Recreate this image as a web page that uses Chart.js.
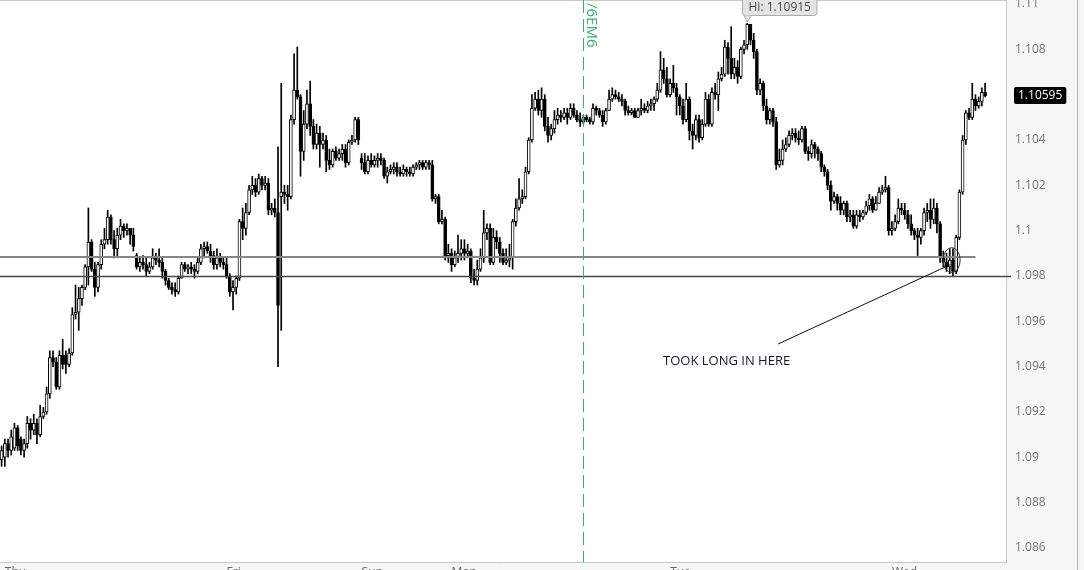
<!DOCTYPE html>
<html><head><meta charset="utf-8">
<script src="https://cdn.jsdelivr.net/npm/chart.js@4.4.1/dist/chart.umd.min.js"></script>
<style>html,body{margin:0;padding:0;background:#f6f6f6;overflow:hidden}#wrap{position:relative;width:1084px;height:570px}</style>
</head><body><div id="wrap"><canvas id="c"></canvas></div>
<script>
// ---- DATA (EUR/USD style candles) ----
const opens=[
1.0899,1.0900,1.0906,1.0903,1.0904,1.0913,1.0908,1.0903,1.0906,1.0915,
1.0912,1.0915,1.0910,1.0918,1.0920,1.0928,1.0944,1.0942,1.0931,1.0945,
1.0945,1.0941,1.0946,1.0963,1.0964,1.0970,1.0975,1.0984,1.0995,1.0983,
1.0975,1.0985,1.0994,1.0996,1.1006,1.0996,1.0992,1.0998,1.1002,1.1000,
1.1001,1.0998,1.0989,1.0984,1.0986,1.0985,1.0982,1.0984,1.0988,1.0987,
1.0986,1.0982,1.0978,1.0975,1.0974,1.0973,1.0979,1.0985,1.0983,1.0984,
1.0983,1.0982,1.0986,1.0992,1.0993,1.0991,1.0989,1.0985,1.0988,1.0986,
1.0985,1.0980,1.0973,1.0975,1.0979,1.1004,1.1001,1.1008,1.1018,1.1020,
1.1017,1.1023,1.1020,1.1021,1.1009,1.1010,1.1008,1.1015,1.1017,1.1016,
1.1015,1.1049,1.1062,1.1059,1.1035,1.1047,1.1056,1.1046,1.1038,1.1043,
1.1038,1.1040,1.1031,1.1029,1.1035,1.1032,1.1034,1.1036,1.1030,1.1039,
1.1040,1.1049,1.1032,1.1030,1.1026,1.1031,1.1029,1.1031,1.1032,1.1031,
1.1024,1.1026,1.1027,1.1028,1.1026,1.1025,1.1027,1.1026,1.1025,1.1028,
1.1029,1.1030,1.1028,1.1030,1.1029,1.1014,1.1015,1.1004,1.1005,1.0989,
1.0990,1.0985,1.0988,1.0990,1.0992,1.0990,1.0991,1.0979,1.0978,1.0983,
1.0988,1.0999,1.1001,1.0986,1.0997,1.0995,1.0990,1.0986,1.0987,1.0988,
1.1004,1.1010,1.1014,1.1015,1.1026,1.1040,1.1054,1.1058,1.1053,1.1058,
1.1046,1.1042,1.1045,1.1049,1.1051,1.1050,1.1052,1.1050,1.1054,1.1051,
1.1049,1.1048,1.1050,1.1049,1.1048,1.1054,1.1053,1.1051,1.1048,1.1053,
1.1058,1.1060,1.1059,1.1058,1.1057,1.1053,1.1052,1.1053,1.1050,1.1053,
1.1054,1.1053,1.1055,1.1056,1.1058,1.1062,1.1071,1.1067,1.1060,1.1065,
1.1063,1.1059,1.1055,1.1049,1.1058,1.1044,1.1042,1.1049,1.1041,1.1047,
1.1058,1.1047,1.1061,1.1060,1.1067,1.1069,1.1081,1.1076,1.1069,1.1072,
1.1068,1.1080,1.1082,1.1091,1.1084,1.1079,1.1062,1.1065,1.1055,1.1049,
1.1053,1.1048,1.1029,1.1031,1.1036,1.1038,1.1042,1.1043,1.1041,1.1040,
1.1045,1.1035,1.1034,1.1038,1.1036,1.1034,1.1028,1.1026,1.1020,1.1013,
1.1015,1.1012,1.1009,1.1012,1.1006,1.1007,1.1002,1.1007,1.1006,1.1008,
1.1011,1.1014,1.1009,1.1012,1.1017,1.1018,1.1019,1.1000,1.1001,1.1004,
1.1010,1.1009,1.1007,1.1003,1.1000,1.0998,1.0997,1.1000,1.1008,1.1009,
1.1005,1.1010,1.1003,1.0988,1.0986,1.0984,1.0987,1.0982,1.0997,1.1017,
1.1040,1.1052,1.1050,1.1058,1.1055,1.1057,1.1061];
const highs=[
1.0905,1.0908,1.0908,1.0912,1.0915,1.0914,1.0909,1.0908,1.0918,1.0917,
1.0919,1.0917,1.0923,1.0922,1.0931,1.0947,1.0947,1.0944,1.0947,1.0952,
1.0947,1.0948,1.0966,1.0976,1.0975,1.0976,1.0985,1.1010,1.0996,1.0986,
1.0986,1.0996,1.1001,1.1009,1.1007,1.1000,1.1001,1.1005,1.1003,1.1003,
1.1001,1.1001,1.0990,1.0988,1.0989,1.0988,1.0986,1.0992,1.0990,1.0992,
1.0988,1.0983,1.0979,1.0977,1.0977,1.0980,1.0986,1.0986,1.0985,1.0986,
1.0985,1.0988,1.0994,1.0995,1.0995,1.0994,1.0991,1.0992,1.0990,1.0988,
1.0988,1.0981,1.0978,1.0980,1.1005,1.1010,1.1012,1.1020,1.1024,1.1023,
1.1025,1.1024,1.1024,1.1023,1.1012,1.1014,1.1037,1.1065,1.1020,1.1020,
1.1051,1.1078,1.1081,1.1060,1.1053,1.1062,1.1066,1.1049,1.1047,1.1046,
1.1043,1.1042,1.1036,1.1036,1.1037,1.1036,1.1038,1.1038,1.1040,1.1042,
1.1050,1.1050,1.1034,1.1034,1.1033,1.1034,1.1033,1.1034,1.1034,1.1032,
1.1028,1.1029,1.1030,1.1030,1.1028,1.1029,1.1028,1.1028,1.1029,1.1030,
1.1031,1.1031,1.1031,1.1031,1.1031,1.1016,1.1016,1.1009,1.1006,1.0994,
1.0992,1.0991,1.0998,1.0996,1.0996,1.0994,1.0992,1.0983,1.0987,1.0992,
1.1009,1.1003,1.1003,1.1001,1.1000,1.0997,1.0992,1.0992,1.0994,1.1005,
1.1014,1.1023,1.1018,1.1028,1.1041,1.1060,1.1061,1.1062,1.1063,1.1060,
1.1050,1.1047,1.1053,1.1054,1.1053,1.1054,1.1054,1.1056,1.1056,1.1053,
1.1052,1.1051,1.1051,1.1050,1.1056,1.1055,1.1054,1.1053,1.1054,1.1062,
1.1063,1.1062,1.1061,1.1060,1.1058,1.1055,1.1054,1.1054,1.1054,1.1058,
1.1056,1.1057,1.1058,1.1059,1.1065,1.1079,1.1076,1.1072,1.1067,1.1073,
1.1065,1.1060,1.1058,1.1065,1.1059,1.1047,1.1051,1.1051,1.1049,1.1061,
1.1060,1.1063,1.1065,1.1070,1.1072,1.1084,1.1083,1.1090,1.1076,1.1075,
1.1081,1.1084,1.10915,1.1091,1.1087,1.1080,1.1067,1.1066,1.1058,1.1054,
1.1054,1.1050,1.1036,1.1040,1.1041,1.1044,1.1045,1.1045,1.1044,1.1046,
1.1046,1.1037,1.1040,1.1039,1.1037,1.1035,1.1029,1.1027,1.1022,1.1017,
1.1016,1.1015,1.1013,1.1013,1.1009,1.1009,1.1009,1.1009,1.1009,1.1013,
1.1016,1.1015,1.1015,1.1019,1.1020,1.1024,1.1020,1.1004,1.1007,1.1014,
1.1012,1.1012,1.1009,1.1007,1.1001,1.1001,1.1001,1.1010,1.1012,1.1014,
1.1014,1.1012,1.1004,1.0991,1.0990,1.0992,1.0992,1.0998,1.1018,1.1042,
1.1053,1.1054,1.1065,1.1060,1.1059,1.1063,1.1065];
const lows=[
1.0896,1.0896,1.0900,1.0901,1.0903,1.0903,1.0901,1.0900,1.0904,1.0908,
1.0910,1.0906,1.0909,1.0917,1.0919,1.0926,1.0940,1.0930,1.0930,1.0939,
1.0937,1.0940,1.0945,1.0961,1.0956,1.0967,1.0974,1.0976,1.0982,1.0971,
1.0973,1.0983,1.0992,1.0994,1.0994,1.0988,1.0988,1.0996,1.0997,1.0998,
1.0994,1.0991,1.0983,1.0982,1.0983,1.0980,1.0981,1.0983,1.0985,1.0984,
1.0979,1.0976,1.0974,1.0972,1.0971,1.0972,1.0979,1.0982,1.0981,1.0981,
1.0979,1.0981,1.0985,1.0988,1.0990,1.0986,1.0983,1.0983,1.0984,1.0983,
1.0979,1.0971,1.0965,1.0972,1.0978,1.0996,1.0998,1.1007,1.1016,1.1015,
1.1016,1.1018,1.1018,1.1007,1.1007,1.1006,1.0940,1.0956,1.1012,1.1009,
1.1014,1.1047,1.1058,1.1024,1.1031,1.1045,1.1042,1.1036,1.1036,1.1028,
1.1036,1.1026,1.1027,1.1028,1.1031,1.1031,1.1031,1.1028,1.1029,1.1038,
1.1039,1.1038,1.1027,1.1025,1.1025,1.1028,1.1028,1.1028,1.1029,1.1023,
1.1021,1.1025,1.1025,1.1024,1.1024,1.1024,1.1024,1.1024,1.1024,1.1027,
1.1027,1.1027,1.1027,1.1027,1.1013,1.1012,1.1003,1.1003,1.0987,1.0986,
1.0982,1.0984,1.0986,1.0987,1.0987,1.0988,1.0977,1.0976,1.0976,1.0982,
1.0986,1.0996,1.0985,1.0985,1.0992,1.0986,1.0985,1.0985,1.0984,1.0983,
1.1002,1.1009,1.1012,1.1014,1.1025,1.1039,1.1053,1.1051,1.1050,1.1044,
1.1039,1.1040,1.1043,1.1047,1.1048,1.1049,1.1047,1.1049,1.1050,1.1048,
1.1046,1.1047,1.1048,1.1047,1.1047,1.1051,1.1050,1.1046,1.1047,1.1053,
1.1057,1.1058,1.1057,1.1055,1.1051,1.1051,1.1051,1.1050,1.1050,1.1051,
1.1052,1.1052,1.1053,1.1053,1.1057,1.1061,1.1065,1.1059,1.1059,1.1061,
1.1051,1.1051,1.1047,1.1048,1.1040,1.1036,1.1040,1.1039,1.1040,1.1046,
1.1046,1.1046,1.1058,1.1053,1.1066,1.1068,1.1069,1.1067,1.1067,1.1065,
1.1067,1.1078,1.1080,1.1082,1.1076,1.1060,1.1060,1.1053,1.1047,1.1047,
1.1046,1.1027,1.1028,1.1029,1.1035,1.1037,1.1040,1.1039,1.1038,1.1039,
1.1034,1.1031,1.1032,1.1032,1.1031,1.1026,1.1024,1.1018,1.1009,1.1012,
1.1009,1.1007,1.1007,1.1004,1.1004,1.1001,1.1001,1.1004,1.1005,1.1007,
1.1009,1.1008,1.1009,1.1012,1.1016,1.1017,1.0998,1.0998,1.1000,1.1003,
1.1007,1.1005,1.1001,1.0998,1.0996,1.0989,1.0994,1.0998,1.1004,1.1001,
1.1003,1.0999,1.0986,1.0984,1.0982,1.0981,1.0980,1.0981,1.0996,1.1016,
1.1038,1.1049,1.1049,1.1053,1.1054,1.1055,1.1059];
const closes=[
1.0903,1.0906,1.0903,1.0909,1.0913,1.0905,1.0903,1.0906,1.0915,1.0912,
1.0915,1.0910,1.0918,1.0920,1.0928,1.0944,1.0942,1.0931,1.0945,1.0941,
1.0941,1.0946,1.0963,1.0964,1.0970,1.0975,1.0984,1.0995,1.0983,1.0975,
1.0985,1.0994,1.0996,1.1006,1.0996,1.0992,1.0998,1.1002,1.1000,1.1001,
1.0998,1.0993,1.0984,1.0986,1.0985,1.0982,1.0984,1.0988,1.0987,1.0986,
1.0982,1.0978,1.0975,1.0974,1.0973,1.0979,1.0985,1.0983,1.0984,1.0983,
1.0982,1.0986,1.0992,1.0993,1.0991,1.0989,1.0985,1.0988,1.0986,1.0985,
1.0980,1.0973,1.0975,1.0979,1.1004,1.1001,1.1008,1.1018,1.1020,1.1017,
1.1023,1.1020,1.1021,1.1009,1.1010,1.1008,1.0967,1.1017,1.1016,1.1015,
1.1049,1.1062,1.1059,1.1035,1.1047,1.1056,1.1046,1.1038,1.1043,1.1038,
1.1040,1.1031,1.1029,1.1035,1.1032,1.1034,1.1036,1.1030,1.1039,1.1040,
1.1049,1.1040,1.1030,1.1026,1.1031,1.1029,1.1031,1.1032,1.1031,1.1024,
1.1026,1.1027,1.1028,1.1026,1.1025,1.1027,1.1026,1.1025,1.1028,1.1029,
1.1030,1.1028,1.1030,1.1029,1.1014,1.1015,1.1004,1.1005,1.0989,1.0990,
1.0985,1.0988,1.0990,1.0992,1.0990,1.0991,1.0979,1.0978,1.0983,1.0988,
1.0999,1.1001,1.0986,1.0997,1.0995,1.0990,1.0986,1.0987,1.0988,1.1004,
1.1010,1.1014,1.1015,1.1026,1.1040,1.1054,1.1058,1.1053,1.1058,1.1046,
1.1042,1.1045,1.1049,1.1051,1.1050,1.1052,1.1050,1.1054,1.1051,1.1049,
1.1048,1.1050,1.1049,1.1048,1.1054,1.1053,1.1051,1.1048,1.1053,1.1058,
1.1060,1.1059,1.1058,1.1057,1.1053,1.1052,1.1053,1.1050,1.1053,1.1054,
1.1053,1.1055,1.1056,1.1058,1.1062,1.1071,1.1067,1.1060,1.1065,1.1063,
1.1059,1.1055,1.1049,1.1058,1.1044,1.1042,1.1049,1.1041,1.1047,1.1058,
1.1047,1.1061,1.1060,1.1067,1.1069,1.1081,1.1076,1.1069,1.1072,1.1068,
1.1080,1.1082,1.1091,1.1084,1.1079,1.1062,1.1065,1.1055,1.1049,1.1053,
1.1048,1.1029,1.1031,1.1036,1.1038,1.1042,1.1043,1.1041,1.1040,1.1045,
1.1035,1.1034,1.1038,1.1036,1.1034,1.1028,1.1026,1.1020,1.1013,1.1015,
1.1012,1.1009,1.1012,1.1006,1.1007,1.1002,1.1007,1.1006,1.1008,1.1011,
1.1014,1.1009,1.1012,1.1017,1.1018,1.1019,1.1000,1.1001,1.1004,1.1010,
1.1009,1.1007,1.1003,1.1000,1.0998,1.0997,1.1000,1.1008,1.1009,1.1005,
1.1010,1.1003,1.0988,1.0986,1.0984,1.0987,1.0982,1.0997,1.1017,1.1040,
1.1052,1.1050,1.1058,1.1055,1.1057,1.1061,1.10595];

const yTickValues=[1.086,1.088,1.09,1.092,1.094,1.096,1.098,1.1,1.102,1.104,1.106,1.108,1.11];
const dayTickIndex=[1,70,112,140,208,277];
const dayTickText=['Thu','Fri','Sun','Mon','Tue','Wed'];
const levelValues=[1.09885,1.098];
const rollIndex=181;            // contract roll marker (candle index)
const rollText='/6EM6';
const noteText='TOOK LONG IN HERE';
const noteAt=[205.8,1.09425];
const noteFrom=[241.6,1.0950];
const noteTo=[295.2,1.0985];
const entryAt=[295.6,1.0987];

// ---- BUILD ----
const FONT="'Open Sans','Noto Sans',sans-serif";
const slotCount=opens.length+6;
const slotLabels=Array.from({length:slotCount},(_,i)=>{const k=dayTickIndex.indexOf(i);return k>=0?dayTickText[k]:'';});
const wickData=highs.map((h,i)=>[lows[i],h]);
const bodyData=opens.map((o,i)=>[Math.min(o,closes[i]),Math.max(o,closes[i])]);
const bodyColors=opens.map((o,i)=>closes[i]>=o?'#ffffff':'#000000');

function rr(ctx,x,y,w,h,r){ctx.beginPath();ctx.moveTo(x+r,y);ctx.lineTo(x+w-r,y);ctx.quadraticCurveTo(x+w,y,x+w,y+r);ctx.lineTo(x+w,y+h-r);ctx.quadraticCurveTo(x+w,y+h,x+w-r,y+h);ctx.lineTo(x+r,y+h);ctx.quadraticCurveTo(x,y+h,x,y+h-r);ctx.lineTo(x,y+r);ctx.quadraticCurveTo(x,y,x+r,y);ctx.closePath();}

const bgPlugin={id:'bg',beforeDraw(ch){const {ctx,chartArea:a}=ch;ctx.save();ctx.fillStyle='#f6f6f6';ctx.fillRect(0,0,ch.width,ch.height);ctx.fillStyle='#ffffff';ctx.fillRect(a.left,a.top,a.right-a.left,a.bottom-a.top);ctx.restore();}};

const overlay={id:'overlay',afterDraw(ch){
  const {ctx,chartArea:a}=ch;const xs=ch.scales.x,ys=ch.scales.y;
  ctx.save();
  // top border
  ctx.fillStyle='#c8c8c8';ctx.fillRect(a.left,a.top,a.right-a.left,1);
  // level lines
  let y1=Math.round(ys.getPixelForValue(levelValues[0]));
  ctx.strokeStyle='#868686';ctx.lineWidth=2;ctx.beginPath();ctx.moveTo(a.left,y1);ctx.lineTo(xs.getPixelForValue(opens.length-4),y1);ctx.stroke();
  let y2=Math.round(ys.getPixelForValue(levelValues[1]))+0.5;
  ctx.strokeStyle='#474747';ctx.lineWidth=1.3;ctx.beginPath();ctx.moveTo(a.left,y2);ctx.lineTo(a.right+5,y2);ctx.stroke();
  // roll marker
  const rx=Math.round(xs.getPixelForValue(rollIndex))+0.5;
  ctx.strokeStyle='#2fb46a';ctx.lineWidth=1;ctx.setLineDash([13,6]);ctx.beginPath();ctx.moveTo(rx,a.top);ctx.lineTo(rx,a.bottom);ctx.stroke();ctx.setLineDash([]);
  ctx.save();ctx.translate(rx+3,3);ctx.rotate(Math.PI/2);ctx.font='15px '+FONT;ctx.fillStyle='#2fb46a';ctx.textBaseline='alphabetic';ctx.textAlign='left';ctx.fillText(rollText,0,0);ctx.restore();
  // Hi callout
  let hiIdx=0;highs.forEach((h,i)=>{if(h>highs[hiIdx])hiIdx=i;});
  const hx=xs.getPixelForValue(hiIdx),hy=ys.getPixelForValue(highs[hiIdx]);
  ctx.font='12px '+FONT;const ht='Hi: '+highs[hiIdx].toFixed(5);const hw=ctx.measureText(ht).width+12;
  const bx=Math.round(hx-5)+0.5,bb=Math.round(hy-8)+0.5,bt=bb-22;
  rr(ctx,bx,bt,hw,bb-bt,3);ctx.fillStyle='#e4e4e4';ctx.fill();ctx.strokeStyle='#ababab';ctx.lineWidth=1;ctx.stroke();
  ctx.beginPath();ctx.moveTo(hx-3,bb);ctx.lineTo(hx,hy-1);ctx.lineTo(hx+4,bb);ctx.fillStyle='#e4e4e4';ctx.fill();
  ctx.beginPath();ctx.moveTo(hx-3,bb);ctx.lineTo(hx,hy-1);ctx.lineTo(hx+4,bb);ctx.strokeStyle='#ababab';ctx.stroke();
  ctx.fillStyle='#4a4a4a';ctx.textBaseline='middle';ctx.textAlign='left';ctx.fillText(ht,bx+6,bb-8);
  // last price tag
  const last=closes[closes.length-1];const ly=ys.getPixelForValue(last);
  const lt=last.toFixed(5);const lw=ctx.measureText(lt).width+8;
  rr(ctx,a.right+8,Math.round(ly-9),lw,17,2);ctx.fillStyle='#000';ctx.fill();
  ctx.fillStyle='#ffffff';ctx.fillText(lt,a.right+12,ly);
  // note line + text
  ctx.strokeStyle='#111';ctx.lineWidth=1;ctx.beginPath();
  ctx.moveTo(xs.getPixelForValue(noteFrom[0]),ys.getPixelForValue(noteFrom[1]));
  ctx.lineTo(xs.getPixelForValue(noteTo[0]),ys.getPixelForValue(noteTo[1]));ctx.stroke();
  ctx.fillStyle='#16162a';ctx.font='13px '+FONT;ctx.textBaseline='middle';
  ctx.fillText(noteText,xs.getPixelForValue(noteAt[0]),ys.getPixelForValue(noteAt[1]));
  // entry circle
  ctx.strokeStyle='#333';ctx.lineWidth=1;ctx.beginPath();
  ctx.ellipse(xs.getPixelForValue(entryAt[0]),ys.getPixelForValue(entryAt[1]),8.5,12.5,0,0,Math.PI*2);ctx.stroke();
  // window edge
  ctx.fillStyle='#b4b4b4';ctx.fillRect(1077,0,1,ch.height);
  ctx.restore();
}};

new Chart(document.getElementById('c'),{
  type:'bar',
  data:{labels:slotLabels,datasets:[
    {label:'wick',data:wickData,backgroundColor:'#000',borderWidth:0,barThickness:1,grouped:false,order:2},
    {label:'body',data:bodyData,backgroundColor:bodyColors,borderColor:'#000',borderWidth:1,borderSkipped:false,barThickness:3,minBarLength:1,grouped:false,order:1}
  ]},
  options:{
    responsive:true,maintainAspectRatio:false,animation:false,events:[],
    layout:{padding:0},
    plugins:{legend:{display:false},tooltip:{enabled:false}},
    scales:{
      x:{type:'category',offset:true,
        grid:{display:false,drawTicks:false},border:{display:true,color:'#c8c8c8'},
        ticks:{autoSkip:false,maxRotation:0,minRotation:0,align:'start',padding:3,color:'#666',font:{family:FONT,size:12}},
        afterFit(s){s.height=8;s.paddingLeft=0;s.paddingRight=0;}},
      y:{type:'linear',position:'right',min:1.08538,max:1.110176,
        grid:{display:false,drawTicks:false},border:{display:true,color:'#c8c8c8'},
        afterBuildTicks(s){s.ticks=yTickValues.map(v=>({value:v}));},
        ticks:{padding:9,color:'#777',font:{family:FONT,size:12},callback:v=>String(+Number(v).toFixed(3))},
        afterFit(s){s.width=78;s.paddingTop=0;s.paddingBottom=0;}}
    }
  },
  plugins:[bgPlugin,overlay]
});
</script>
</body></html>
